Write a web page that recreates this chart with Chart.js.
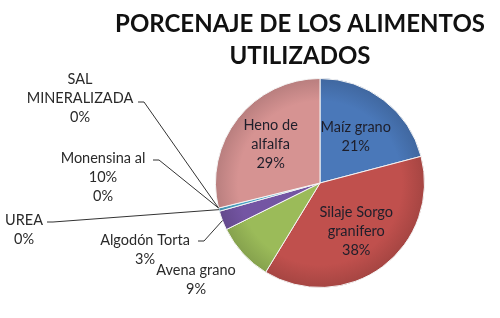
<!DOCTYPE html>
<html>
<head>
<meta charset="utf-8">
<script src="https://cdn.jsdelivr.net/npm/chart.js@4"></script>
<style>
html, body { margin: 0; padding: 0; background: #fff; }
#grafica { display: block; }
</style>
</head>
<body>
<canvas id="grafica" width="500" height="318"></canvas>
<script>
// datos
const tituloLineas = ['PORCENAJE DE LOS ALIMENTOS', 'UTILIZADOS'];
const categorias = [
    ['Maíz grano'],
    ['Silaje Sorgo', 'granifero'],
    ['Avena grano'],
    ['Algodón Torta'],
    ['UREA'],
    ['Monensina al', '10%'],
    ['SAL', 'MINERALIZADA'],
    ['Heno de', 'alfalfa']
];
const valores = [21, 38, 9, 3, 0.5, 0, 0, 29];
const colores = ['#4A78B9', '#C0504D', '#9BBB59', '#7455A3', '#4BA3C4', '#F79646', '#2C4D75', '#D69392'];

// donde va cada etiqueta (dentro del pastel o afuera con linea)
const etiquetas = [
    { tipo: 'dentro', f: 0.56 },
    { tipo: 'dentro', f: 0.58 },
    { tipo: 'fuera', x: 196, y: 270 },
    { tipo: 'fuera', x: 145, y: 240, linea: [198, 241] },
    { tipo: 'fuera', x: 24, y: 220, linea: [47, 222] },
    { tipo: 'fuera', x: 103, y: 158, linea: [153, 160] },
    { tipo: 'fuera', x: 80, y: 79, linea: [138, 102] },
    { tipo: 'dentro', f: 0.6 }
];

const FUENTE = 'Lato, "Open Sans", sans-serif';
const ALTO_LINEA = 19;

function oscurecer(hex, k) {
    const n = parseInt(hex.slice(1), 16);
    const r = Math.round(((n >> 16) & 255) * k);
    const g = Math.round(((n >> 8) & 255) * k);
    const b = Math.round((n & 255) * k);
    return `rgb(${r},${g},${b})`;
}

// relleno con un poco de sombra en el borde, estilo Excel
function rellenoArco(context) {
    const chart = context.chart;
    const area = chart.chartArea;
    const base = colores[context.dataIndex];
    if (!area) return base;
    const cx = (area.left + area.right) / 2;
    const cy = (area.top + area.bottom) / 2;
    const r = Math.min(area.right - area.left, area.bottom - area.top) / 2;
    const grad = chart.ctx.createRadialGradient(cx, cy, 0, cx, cy, r);
    grad.addColorStop(0, base);
    grad.addColorStop(0.78, base);
    grad.addColorStop(1, oscurecer(base, 0.86));
    return grad;
}

const pluginEtiquetas = {
    id: 'etiquetas',
    afterDraw(chart) {
        const ctx = chart.ctx;
        const meta = chart.getDatasetMeta(0);
        const total = valores.reduce((a, b) => a + b, 0);

        ctx.save();
        // titulo
        ctx.fillStyle = '#111';
        ctx.font = 'bold 24px ' + FUENTE;
        ctx.textAlign = 'center';
        ctx.textBaseline = 'middle';
        tituloLineas.forEach((t, i) => ctx.fillText(t, 300, 24 + i * 32));

        ctx.font = '14.5px ' + FUENTE;
        meta.data.forEach((arco, i) => {
            const p = arco.getProps(['x', 'y', 'startAngle', 'endAngle', 'outerRadius'], true);
            const medio = (p.startAngle + p.endAngle) / 2;
            const pct = Math.round(valores[i] / total * 100) + '%';
            const lineas = categorias[i].concat([pct]);
            const conf = etiquetas[i];

            if (conf.tipo === 'dentro') {
                const lx = p.x + Math.cos(medio) * p.outerRadius * conf.f;
                const ly = p.y + Math.sin(medio) * p.outerRadius * conf.f;
                const y0 = ly - (lineas.length - 1) * ALTO_LINEA / 2;
                ctx.fillStyle = '#1e1e2a';
                lineas.forEach((t, k) => ctx.fillText(t, lx, y0 + k * ALTO_LINEA));
            } else {
                if (conf.linea) {
                    const ax = p.x + Math.cos(medio) * p.outerRadius;
                    const ay = p.y + Math.sin(medio) * p.outerRadius;
                    ctx.strokeStyle = '#333';
                    ctx.lineWidth = 1;
                    ctx.beginPath();
                    ctx.moveTo(conf.linea[0], conf.linea[1]);
                    ctx.lineTo(conf.linea[0] + 6, conf.linea[1]);
                    ctx.lineTo(ax, ay);
                    ctx.stroke();
                }
                ctx.fillStyle = '#2a2a2a';
                lineas.forEach((t, k) => ctx.fillText(t, conf.x, conf.y + k * ALTO_LINEA));
            }
        });
        ctx.restore();
    }
};

new Chart(document.getElementById('grafica'), {
    type: 'pie',
    data: {
        labels: categorias.map(c => c.join(' ')),
        datasets: [{
            data: valores,
            backgroundColor: rellenoArco,
            borderColor: '#f4f4f4',
            borderWidth: 1
        }]
    },
    options: {
        responsive: false,
        animation: false,
        layout: {
            padding: { left: 140, right: 0, top: 78, bottom: 30 }
        },
        plugins: {
            legend: { display: false },
            tooltip: { enabled: false }
        }
    },
    plugins: [pluginEtiquetas]
});
</script>
</body>
</html>
